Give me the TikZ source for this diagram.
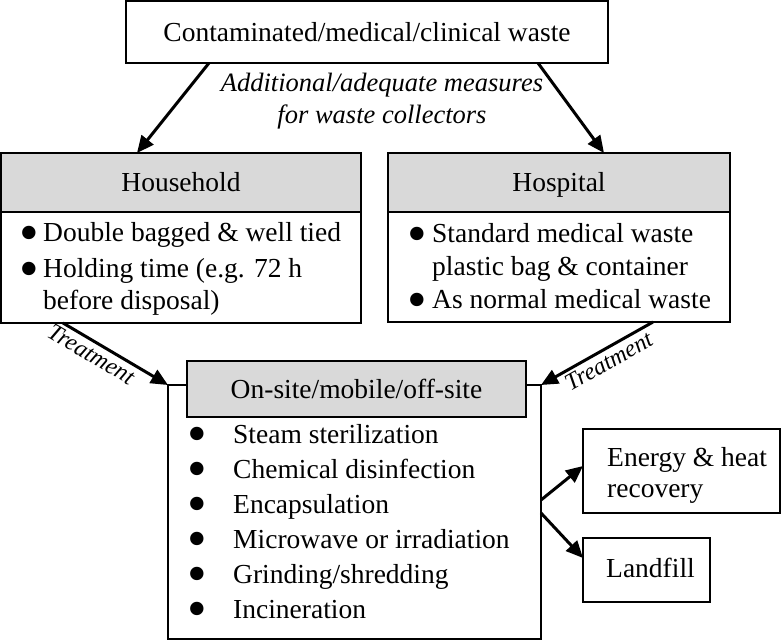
\documentclass[tikz,border=0pt]{standalone}
\usepackage{fontspec}
\setmainfont{Liberation Serif}
\usetikzlibrary{arrows.meta,calc}
\definecolor{hdrgray}{RGB}{217,217,217}
\begin{document}
\begin{tikzpicture}[x=1pt,y=-1pt,
  box/.style={draw,line width=1.3pt,inner sep=0pt,outer sep=0pt},
  hdr/.style={box,fill=hdrgray,font=\fontsize{27.5}{33}\selectfont,text height=18pt,text depth=0pt},
  arr/.style={line width=3pt,-{Triangle[length=17pt,width=15pt]}},
  txt/.style={font=\fontsize{27.5}{33}\selectfont,inner sep=0pt},
  itemline/.style={txt,anchor=base west},
  bul/.style={font=\fontsize{56}{56}\selectfont,inner sep=0pt,anchor=center},
  lab/.style={font=\fontsize{24}{26}\selectfont\itshape,inner sep=0pt}]
\useasboundingbox (0,0) rectangle (782,641);
% top
\node[box,minimum width=482pt,minimum height=62pt,txt] (top) at (367,32) {Contaminated/medical/clinical waste};
\node[inner sep=0pt,align=center,font=\fontsize{26.5}{32}\selectfont\itshape] (meas) at (382,101)
  {Additional/adequate measures\\for waste collectors};
% household
\node[box,minimum width=360pt,minimum height=170pt] (hh) at (181,238) {};
\node[hdr,minimum width=360pt,minimum height=59pt] (hhh) at (181,182.5) {Household};
\node[bul] (hb1) at (29,238.5) {•};
\node[itemline] (hl1) at (43,241) {Double bagged \& well tied};
\node[bul] (hb2) at (29,274.5) {•};
\node[itemline] (hl2) at (43,277) {Holding time (e.g. 72 h};
\node[itemline] (hl3) at (43,309) {before disposal)};
% hospital
\node[box,minimum width=342pt,minimum height=169pt] (hp) at (559,237.5) {};
\node[hdr,minimum width=342pt,minimum height=59pt] (hph) at (559,182.5) {Hospital};
\node[bul] (pb1) at (417,239.5) {•};
\node[itemline] (pl1) at (432,242) {Standard medical waste};
\node[itemline] (pl2) at (432,275) {plastic bag \& container};
\node[bul] (pb2) at (417,305.5) {•};
\node[itemline] (pl3) at (432,308) {As normal medical waste};
% on-site
\node[box,minimum width=373pt,minimum height=254pt] (os) at (354.5,512) {};
\node[hdr,minimum width=339pt,minimum height=56pt] (osh) at (356.5,389) {On-site/mobile/off-site};
\node[bul] (ob1) at (197,439.5) {•};
\node[itemline] (ol1) at (233,443) {Steam sterilization};
\node[bul] (ob2) at (197,474.5) {•};
\node[itemline] (ol2) at (233,478) {Chemical disinfection};
\node[bul] (ob3) at (197,509.5) {•};
\node[itemline] (ol3) at (233,513) {Encapsulation};
\node[bul] (ob4) at (197,544.5) {•};
\node[itemline] (ol4) at (233,548) {Microwave or irradiation};
\node[bul] (ob5) at (197,579.5) {•};
\node[itemline] (ol5) at (233,583) {Grinding/shredding};
\node[bul] (ob6) at (197,614.5) {•};
\node[itemline] (ol6) at (233,618) {Incineration};
% outputs
\node[box,minimum width=197pt,minimum height=84pt] (en) at (681.5,471) {};
\node[itemline] (enl1) at (607,466) {Energy \& heat};
\node[itemline] (enl2) at (607,497) {recovery};
\node[box,minimum width=127pt,minimum height=64pt] (lf) at (646.5,570) {};
\node[itemline] (lfl) at (606,577) {Landfill};
% arrows
\draw[arr] ($(top.south west)+(83,0)$) -- ($(hh.north west)+(136,0)$);
\draw[arr] ($(top.south east)+(-70,0)$) -- ($(hp.north west)+(216,0)$);
\draw[arr] ($(hh.south west)+(62,0)$) -- (os.north west) node[lab,sloped,pos=0.33,below=3pt] (t1) {Treatment};
\draw[arr] ($(hp.south west)+(265,0)$) -- (os.north east) node[lab,sloped,pos=0.45,below=3pt] (t2) {Treatment};
\draw[arr] ($(os.north east)+(0,115)$) -- ($(en.west)+(0,-5)$);
\draw[arr] ($(os.north east)+(0,128)$) -- ($(lf.west)+(0,-12)$);
\end{tikzpicture}
\end{document}
